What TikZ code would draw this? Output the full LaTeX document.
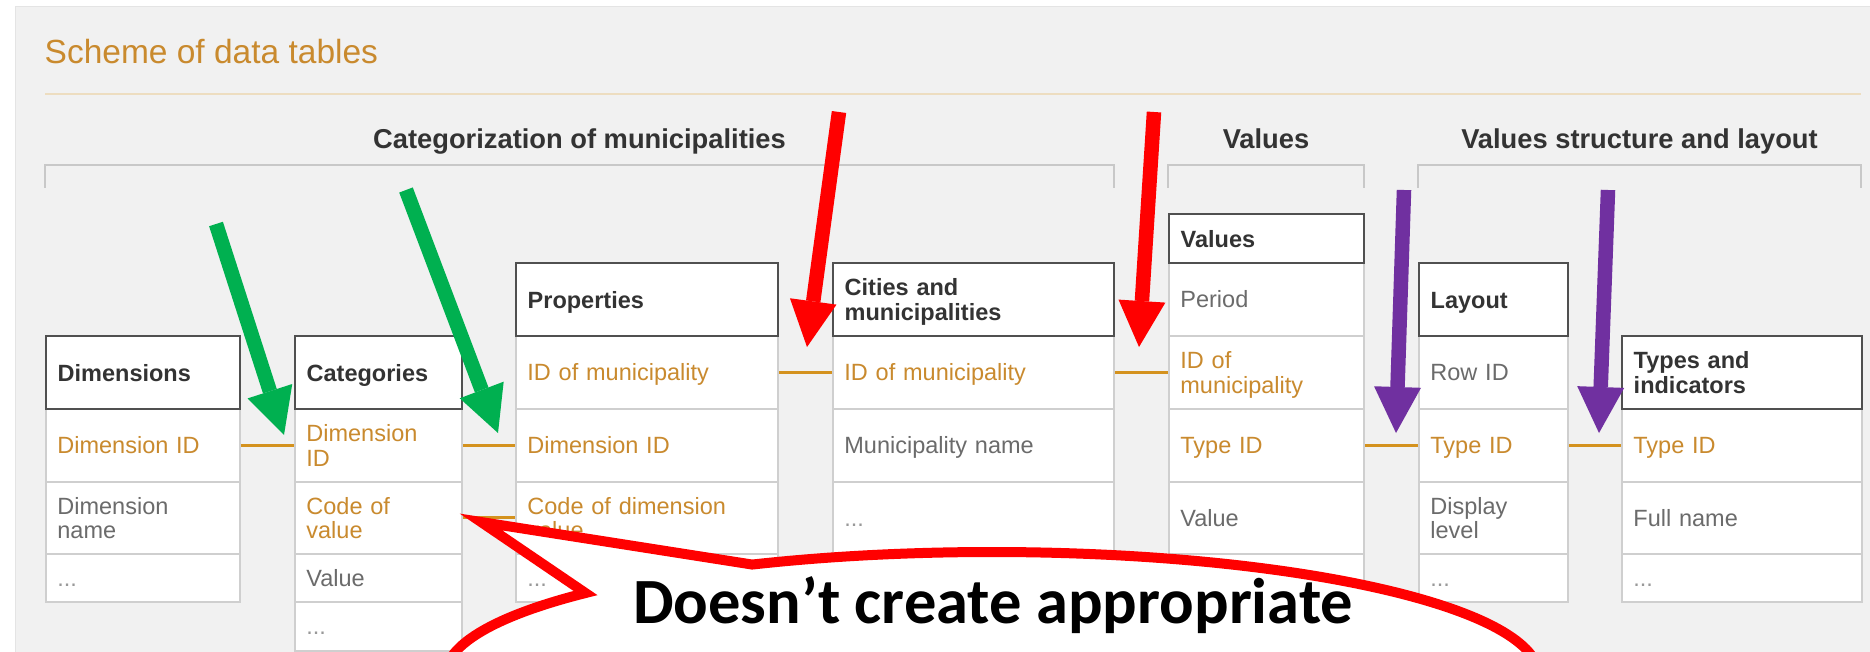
\documentclass[tikz,border=0pt]{standalone}
\usepackage{fontspec}
\setmainfont{Liberation Sans}
\newfontfamily\calloutfont{Carlito}
\usetikzlibrary{arrows.meta,calc}
\definecolor{panelbg}{HTML}{F1F1F1}
\definecolor{panelline}{HTML}{E4E4E4}
\definecolor{orangetxt}{HTML}{C98A2E}
\definecolor{connorange}{HTML}{D4921E}
\definecolor{septan}{HTML}{EDDDC0}
\definecolor{hdrtxt}{HTML}{333333}
\definecolor{graytxt}{HTML}{6B6B6B}
\definecolor{dottxt}{HTML}{999999}
\definecolor{hdrline}{HTML}{505050}
\definecolor{rowline}{HTML}{CFCFCF}
\definecolor{brack}{HTML}{C8C8C8}
\definecolor{agreen}{HTML}{00B050}
\definecolor{ared}{HTML}{FF0000}
\definecolor{apurple}{HTML}{7030A0}
\newcommand\CL[1]{\rule{0pt}{16.8pt}\smash{#1}}
\newcommand\mycell[7]{%
  \edef\tw{\the\numexpr#5-23\relax}%
  \node[#1, text width=\tw pt, minimum width=#5pt, minimum height=#6pt] (#2) at (#3,-#4) {#7};}
\tikzset{
  cellbase/.style={anchor=north west, inner xsep=11.5pt, inner ysep=0pt, align=left, fill=white,
    font=\fontsize{23.5}{24.5}\selectfont},
  hdrcell/.style={cellbase, draw=hdrline, line width=2.4pt, text=hdrtxt,
    font=\fontsize{23.5}{24.5}\selectfont\bfseries},
  keycell/.style={cellbase, draw=rowline, line width=1.8pt, text=orangetxt},
  graycell/.style={cellbase, draw=rowline, line width=1.8pt, text=graytxt},
  dotcell/.style={cellbase, draw=rowline, line width=1.8pt, text=dottxt},
  conn/.style={draw=connorange, line width=3pt},
  grp/.style={anchor=base, inner sep=0pt, text=hdrtxt, font=\fontsize{27.3}{30}\selectfont\bfseries},
  brk/.style={draw=brack, line width=2pt},
  fat/.style={draw=#1, line width=14.5pt, -{Triangle[length=46pt,width=47pt,line width=0pt]}},
  callout/.style={draw=ared, fill=white, line width=10pt, line join=miter},
}
\begin{document}
\begin{tikzpicture}[x=1pt,y=1pt]
\useasboundingbox (0,0) rectangle (1870,-652);
\clip (0,0) rectangle (1870,-652);
% panel
\fill[white] (0,0) rectangle (1870,-652);
\draw[panelline, fill=panelbg, line width=1pt] (15,-7) rectangle (1875,-660);
% title and separator
\node[anchor=base west, inner sep=0pt, text=orangetxt, font=\fontsize{33.5}{36}\selectfont] (title) at (44.5,-64) {Scheme of data tables};
\draw[septan, line width=2.5pt] (45,-94) -- (1861,-94);
% group labels and brackets
\node[grp] (gcat) at (579.5,-149) {Categorization of municipalities};
\node[grp] (gval) at (1266,-149) {Values};
\node[grp] (glay) at (1639.5,-149) {Values structure and layout};
\draw[brk] (45,-188) -- (45,-165) -- (1114,-165) -- (1114,-188);
\draw[brk] (1168,-188) -- (1168,-165) -- (1364,-165) -- (1364,-188);
\draw[brk] (1418,-188) -- (1418,-165) -- (1861,-165) -- (1861,-188);

% Dimensions
\mycell{keycell}{dim1}{45}{408}{194}{73}{\CL{Dimension ID}}
\mycell{graycell}{dim2}{45}{481}{194}{72}{\CL{Dimension}\\\CL{name}}
\mycell{dotcell}{dim3}{45}{553}{194}{48}{\CL{...}}
\mycell{hdrcell}{dimh}{45}{335}{194}{73}{\CL{Dimensions}}
% Categories
\mycell{keycell}{cat1}{294}{408}{167}{73}{\CL{Dimension}\\\CL{ID}}
\mycell{keycell}{cat2}{294}{481}{167}{72}{\CL{Code of}\\\CL{value}}
\mycell{graycell}{cat3}{294}{553}{167}{48}{\CL{Value}}
\mycell{dotcell}{cat4}{294}{601}{167}{49}{\CL{...}}
\mycell{hdrcell}{cath}{294}{335}{167}{73}{\CL{Categories}}
% Properties
\mycell{keycell}{prop1}{515}{335}{262}{73}{\CL{ID of municipality}}
\mycell{keycell}{prop2}{515}{408}{262}{73}{\CL{Dimension ID}}
\mycell{keycell}{prop3}{515}{481}{262}{72}{\CL{Code of dimension}\\\CL{value}}
\mycell{dotcell}{prop4}{515}{553}{262}{48}{\CL{...}}
\mycell{hdrcell}{proph}{515}{262}{262}{73}{\CL{Properties}}
% Cities and municipalities
\mycell{keycell}{city1}{832}{335}{281}{73}{\CL{ID of municipality}}
\mycell{graycell}{city2}{832}{408}{281}{73}{\CL{Municipality name}}
\mycell{dotcell}{city3}{832}{481}{281}{72}{\CL{...}}
\mycell{hdrcell}{cityh}{832}{262}{281}{73}{\CL{Cities and}\\\CL{municipalities}}
% Values
\mycell{graycell}{val1}{1168}{262}{195}{73}{\CL{Period}}
\mycell{keycell}{val2}{1168}{335}{195}{73}{\CL{ID of}\\\CL{municipality}}
\mycell{keycell}{val3}{1168}{408}{195}{73}{\CL{Type ID}}
\mycell{graycell}{val4}{1168}{481}{195}{72}{\CL{Value}}
\mycell{dotcell}{val5}{1168}{553}{195}{48}{\CL{...}}
\mycell{hdrcell}{valh}{1168}{213}{195}{49}{\CL{Values}}
% Layout
\mycell{graycell}{lay1}{1418}{335}{149}{73}{\CL{Row ID}}
\mycell{keycell}{lay2}{1418}{408}{149}{73}{\CL{Type ID}}
\mycell{graycell}{lay3}{1418}{481}{149}{72}{\CL{Display}\\\CL{level}}
\mycell{dotcell}{lay4}{1418}{553}{149}{48}{\CL{...}}
\mycell{hdrcell}{layh}{1418}{262}{149}{73}{\CL{Layout}}
% Types and indicators
\mycell{keycell}{typ1}{1621}{408}{240}{73}{\CL{Type ID}}
\mycell{graycell}{typ2}{1621}{481}{240}{72}{\CL{Full name}}
\mycell{dotcell}{typ3}{1621}{553}{240}{48}{\CL{...}}
\mycell{hdrcell}{typh}{1621}{335}{240}{73}{\CL{Types and}\\\CL{indicators}}

% connectors
\draw[conn] (dim1.east) -- (cat1.west);
\draw[conn] (cat1.east) -- (prop2.west);
\draw[conn] (cat2.east) -- (prop3.west);
\draw[conn] (prop1.east) -- (city1.west);
\draw[conn] (city1.east) -- (val2.west);
\draw[conn] (val3.east) -- (lay2.west);
\draw[conn] (lay2.east) -- (typ1.west);

% annotation arrows
\coordinate (g1s) at (216,-224); \coordinate (g1e) at (284,-435);
\coordinate (g2s) at (406,-190); \coordinate (g2e) at (498,-433);
\coordinate (r1s) at (839,-112); \coordinate (r1e) at (807,-347);
\coordinate (r2s) at (1154,-112); \coordinate (r2e) at (1139,-347);
\coordinate (p1s) at (1404,-190); \coordinate (p1e) at (1396,-433);
\coordinate (p2s) at (1608,-190); \coordinate (p2e) at (1599,-433);
\draw[fat=agreen] (g1s) -- (g1e);
\draw[fat=agreen] (g2s) -- (g2e);
\draw[fat=ared] (r1s) -- (r1e);
\draw[fat=ared] (r2s) -- (r2e);
\draw[fat=apurple] (p1s) -- (p1e);
\draw[fat=apurple] (p2s) -- (p2e);

% callout
\coordinate (cc) at (992,-676);
\coordinate (ctip) at (481,-522);
\draw[callout] (ctip) -- ($(cc)+(138:547pt and 124pt)$)
  arc[start angle=138, end angle=476, x radius=547pt, y radius=124pt] -- cycle;
\node[anchor=base west, inner sep=0pt, text=black,
  font=\calloutfont\fontsize{64.5}{70}\selectfont\bfseries] (ctext) at (633,-623) {Doesn’t create appropriate};
\end{tikzpicture}
\end{document}
